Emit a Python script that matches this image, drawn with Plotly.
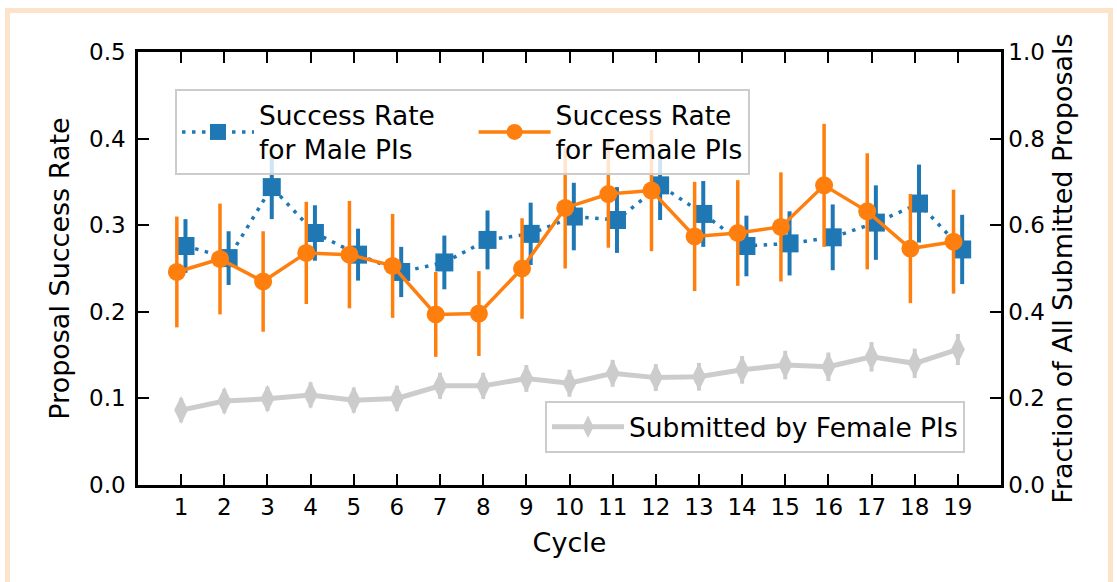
import plotly.graph_objects as go

cycles = list(range(1, 20))
male_rate = [0.276, 0.262, 0.344, 0.291, 0.266, 0.246, 0.257, 0.283, 0.290, 0.310,
             0.306, 0.346, 0.313, 0.276, 0.279, 0.286, 0.303, 0.325, 0.272]
male_err = [0.031, 0.031, 0.037, 0.032, 0.030, 0.029, 0.031, 0.034, 0.036, 0.039,
            0.038, 0.040, 0.038, 0.035, 0.037, 0.038, 0.043, 0.045, 0.040]
female_rate = [0.246, 0.261, 0.235, 0.268, 0.266, 0.253, 0.197, 0.198, 0.250, 0.320,
               0.336, 0.340, 0.287, 0.291, 0.298, 0.346, 0.316, 0.273, 0.281]
female_err = [0.064, 0.064, 0.058, 0.059, 0.062, 0.060, 0.049, 0.049, 0.058, 0.070,
              0.062, 0.070, 0.063, 0.061, 0.063, 0.071, 0.067, 0.063, 0.060]
female_frac = [0.173, 0.194, 0.199, 0.208, 0.196, 0.200, 0.229, 0.229, 0.246, 0.235,
               0.258, 0.248, 0.250, 0.266, 0.277, 0.273, 0.296, 0.281, 0.313]
frac_err = [0.028, 0.028, 0.028, 0.029, 0.029, 0.029, 0.030, 0.030, 0.031, 0.031,
            0.031, 0.031, 0.032, 0.032, 0.033, 0.033, 0.034, 0.034, 0.036]

W, H = 1117, 582
ML, MR, MT, MB = 138, 116, 52, 97
PW, PH = W - ML - MR, H - MT - MB

BLUE = "#1f77b4"
ORANGE = "#ff7f0e"
GRAY = "#cccccc"
FONT = "DejaVu Sans"
NB = "\u00a0"

fig = go.Figure()

fig.add_trace(go.Scatter(
    x=cycles, y=female_frac, yaxis="y2", mode="lines+markers",
    name="Submitted by Female PIs", legend="legend2",
    line=dict(color=GRAY, width=5),
    marker=dict(symbol="diamond-tall", size=20, color=GRAY),
    error_y=dict(type="data", array=frac_err, color=GRAY, thickness=4, width=0),
))

fig.add_trace(go.Scatter(
    x=[c + 0.1 for c in cycles], y=male_rate, mode="lines+markers",
    name="Success Rate" + NB * 4 + "<br>for Male PIs", legend="legend",
    line=dict(color=BLUE, width=3.5, dash="3.5px,6.5px"),
    marker=dict(symbol="square", size=18, color=BLUE),
    error_y=dict(type="data", array=male_err, color=BLUE, thickness=4, width=0),
))

fig.add_trace(go.Scatter(
    x=[c - 0.1 for c in cycles], y=female_rate, mode="lines+markers",
    name="Success Rate<br>for Female PIs", legend="legend",
    line=dict(color=ORANGE, width=3.5),
    marker=dict(symbol="circle", size=18, color=ORANGE),
    error_y=dict(type="data", array=female_err, color=ORANGE, thickness=3.5, width=0),
))

axis_common = dict(
    showline=True, linecolor="black", linewidth=2.5,
    ticks="inside", ticklen=11, tickwidth=2, tickcolor="black",
    showgrid=False, zeroline=False,
    tickfont=dict(family=FONT, size=23, color="black"),
    title_font=dict(family=FONT, size=27, color="black"),
)

fig.update_layout(
    width=W, height=H,
    margin=dict(l=ML, r=MR, t=MT, b=MB, pad=0),
    paper_bgcolor="white", plot_bgcolor="white",
    font=dict(family=FONT, color="black"),
    xaxis=dict(range=[0, 20], tickmode="array", tickvals=cycles,
               ticktext=[str(c) for c in cycles], mirror="ticks",
               title=dict(text="Cycle", standoff=14), **axis_common),
    yaxis=dict(range=[0, 0.5], tickmode="array", tickvals=[0, 0.1, 0.2, 0.3, 0.4, 0.5],
               tickformat=".1f", ticklabelstandoff=5,
               title=dict(text="Proposal Success Rate", standoff=12),
               **axis_common),
    yaxis2=dict(range=[0, 1.0], tickmode="array", tickvals=[0, 0.2, 0.4, 0.6, 0.8, 1.0],
                tickformat=".1f", overlaying="y", side="right",
                title=dict(text="Fraction of All Submitted Proposals", standoff=10),
                **axis_common),
    legend=dict(
        x=(175 - ML) / PW, y=(MT + PH - 89) / PH, xanchor="left", yanchor="top",
        orientation="h", itemwidth=72,
        bgcolor="rgba(255,255,255,0.8)", bordercolor="#cccccc", borderwidth=2,
        font=dict(family=FONT, size=26.5, color="black"),
    ),
    legend2=dict(
        x=(965 - ML) / PW, y=(MT + PH - 401) / PH, xanchor="right", yanchor="top",
        itemwidth=72,
        bgcolor="rgba(255,255,255,0.8)", bordercolor="#cccccc", borderwidth=2,
        font=dict(family=FONT, size=26.5, color="black"),
    ),
    shapes=[dict(
        type="rect", xref="paper", yref="paper", layer="below",
        x0=(7.5 - ML) / PW, x1=(1110.5 - ML) / PW,
        y0=(MT + PH - 600) / PH, y1=(MT + PH - 10.5) / PH,
        line=dict(color="#fbe4c9", width=5), fillcolor="rgba(0,0,0,0)",
    )],
)

fig.write_html("out.html", config={"displayModeBar": False},
               post_script="document.body.style.margin='0';document.body.style.overflow='hidden';")
